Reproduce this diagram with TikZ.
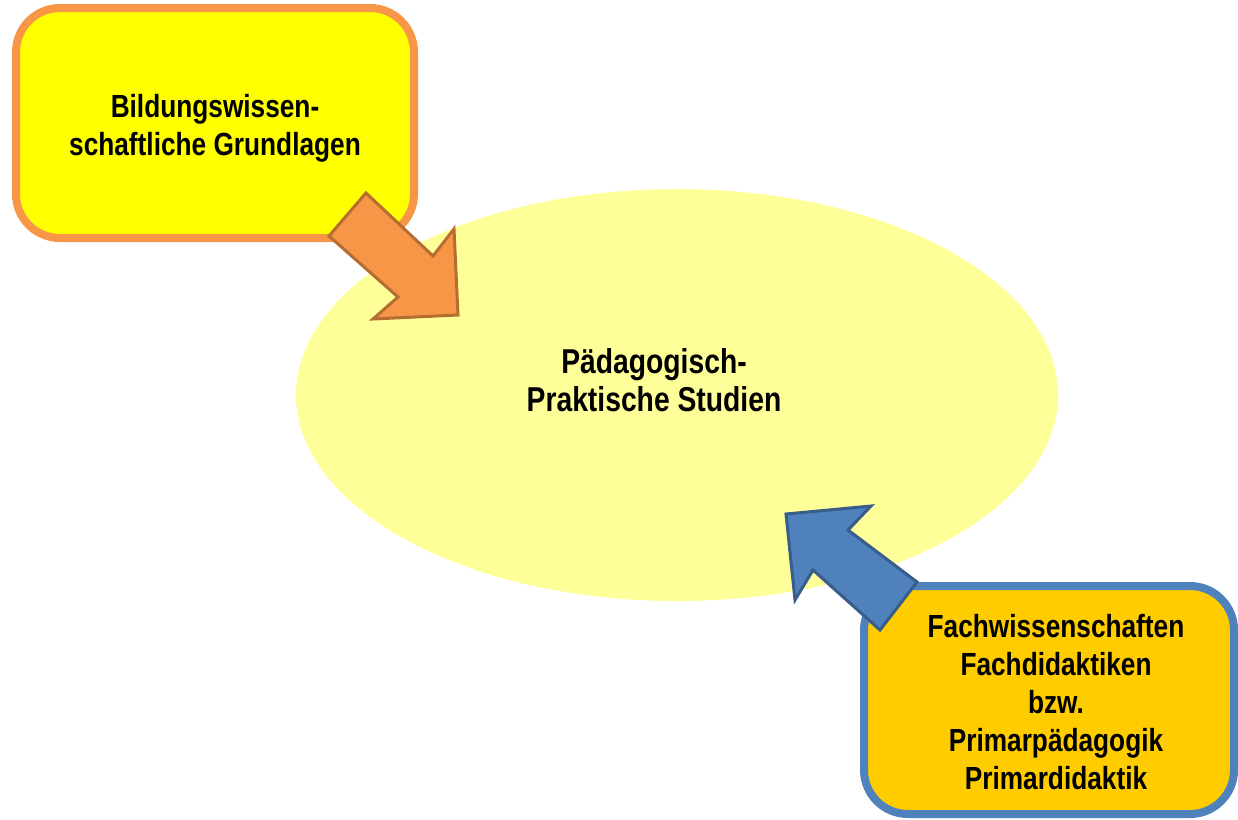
\documentclass[tikz,border=0pt]{standalone}
\usepackage{fontspec}
\newfontfamily\lab[FakeStretch=0.82]{Liberation Sans}
\definecolor{boxorange}{HTML}{F79646}
\definecolor{arroworangedark}{HTML}{B66D31}
\definecolor{boxyellow}{HTML}{FFFF00}
\definecolor{ellyellow}{HTML}{FFFF99}
\definecolor{boxgold}{HTML}{FFCC00}
\definecolor{boxblue}{HTML}{4F81BD}
\definecolor{arrowbluedark}{HTML}{385D8A}
\begin{document}
\begin{tikzpicture}[x=1pt,y=-1pt,
  lbl/.style={font=\lab\bfseries\fontsize{32}{38}\selectfont, align=center, inner sep=0pt, text=black},
  biglbl/.style={lbl, font=\lab\bfseries\fontsize{34.5}{38}\selectfont},
  roundbox/.style={rounded corners=44pt, line width=8pt},
  blockarrow/.style={line width=3pt, line join=miter}]
\useasboundingbox (0,0) rectangle (1238,819);
\fill[white] (0,0) rectangle (1238,819);
% central ellipse
\fill[ellyellow] (677,395) ellipse [x radius=381, y radius=206];
\node[biglbl] (center) at (654,380) {Pädagogisch-\\Praktische Studien};
% top-left box
\draw[roundbox, draw=boxorange, fill=boxyellow] (16,8) rectangle (414,238);
\node[lbl] (bild) at (215,128) {Bildungswissen-\\schaftliche Grundlagen};
% bottom-right box
\draw[roundbox, draw=boxblue, fill=boxgold] (864,586) rectangle (1234,814);
\node[lbl] (fach) at (1056,702) {Fachwissenschaften\\Fachdidaktiken\\bzw.\\Primarpädagogik\\Primardidaktik};
% orange block arrow
\draw[blockarrow, draw=arroworangedark, fill=boxorange]
  (366,193) -- (433,256) -- (454,229) -- (458,315) -- (373,319) -- (398,297) -- (329,236) -- cycle;
% blue block arrow
\draw[blockarrow, draw=arrowbluedark, fill=boxblue]
  (917,582) -- (848,530) -- (871,506) -- (786,514) -- (795,600) -- (813,570) -- (880,630) -- cycle;
\end{tikzpicture}
\end{document}
